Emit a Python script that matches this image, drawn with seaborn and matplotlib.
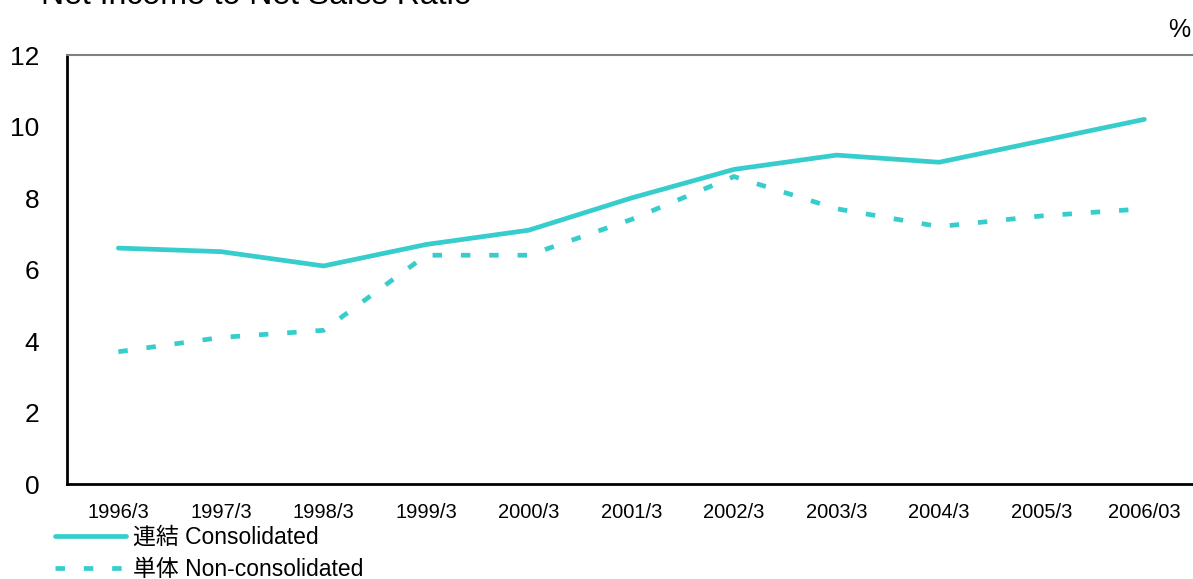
import pandas as pd
import matplotlib.pyplot as plt
import seaborn as sns

# %% data
years = ['1996/3', '1997/3', '1998/3', '1999/3', '2000/3', '2001/3',
         '2002/3', '2003/3', '2004/3', '2005/3', '2006/03']
consolidated = [6.6, 6.5, 6.1, 6.7, 7.1, 8.0, 8.8, 9.2, 9.0, 9.6, 10.2]
non_consolidated = [3.7, 4.1, 4.3, 6.4, 6.4, 7.4, 8.6, 7.7, 7.2, 7.5, 7.7]
series_names = ['連結 Consolidated', '単体 Non-consolidated']

df = pd.DataFrame({
    'year': years * 2,
    'ratio': consolidated + non_consolidated,
    'series': [series_names[0]] * len(years) + [series_names[1]] * len(years),
})

# %% plot
sns.set_style('white')
plt.rcParams['font.family'] = ['Liberation Sans', 'Noto Sans CJK JP', 'DejaVu Sans']
plt.rcParams['text.color'] = 'black'
plt.rcParams['xtick.color'] = 'black'
plt.rcParams['ytick.color'] = 'black'

fig = plt.figure(figsize=(11.93, 5.79), dpi=100)
ax = fig.add_axes([0.0562, 0.164, 0.946, 0.741])

teal = '#36CDCC'
sns.lineplot(data=df, x='year', y='ratio', hue='series', style='series',
             palette={s: teal for s in series_names},
             dashes={series_names[0]: '', series_names[1]: (2, 4)},
             linewidth=3.4, sort=False, ax=ax, legend=True)
for line in ax.lines:
    line.set_solid_capstyle('round')
    line.set_dash_capstyle('butt')

ax.set_xlim(-0.5, len(years) - 0.5)
ax.set_ylim(0, 12)
ax.set_yticks(range(0, 13, 2))
ax.tick_params(axis='y', direction='in', length=9, width=1.5, pad=20, labelsize=19)
ax.set_xticks(range(len(years)))
ax.set_xticklabels(years)
ax.tick_params(axis='x', which='major', length=0, pad=14, labelsize=14.5)
ax.set_xticks([i + 0.5 for i in range(len(years) - 1)], minor=True)
ax.tick_params(axis='x', which='minor', direction='in', length=7, width=1, color='#555555')
ax.set_xlabel('')
ax.set_ylabel('')

for side in ['left', 'bottom']:
    ax.spines[side].set_color('black')
    ax.spines[side].set_linewidth(2)
ax.spines['top'].set_color('#808080')
ax.spines['top'].set_linewidth(1.5)
ax.spines['right'].set_visible(False)

fig.text(0.034, 0.993, 'Net Income to Net Sales Ratio', fontsize=23, va='baseline')
fig.text(0.998, 0.928, '%', fontsize=18, ha='right', va='bottom')

handles, labels = ax.get_legend_handles_labels()
ax.get_legend().remove()
fig.legend(handles, labels, loc='upper left', bbox_to_anchor=(0.046, 0.092),
           frameon=False, handlelength=3.1, handletextpad=0.3,
           labelspacing=0.4, borderaxespad=0, borderpad=0,
           prop={'family': ['Liberation Sans', 'Noto Sans CJK JP'], 'size': 16.5})

fig.savefig('out.png', dpi=100)
